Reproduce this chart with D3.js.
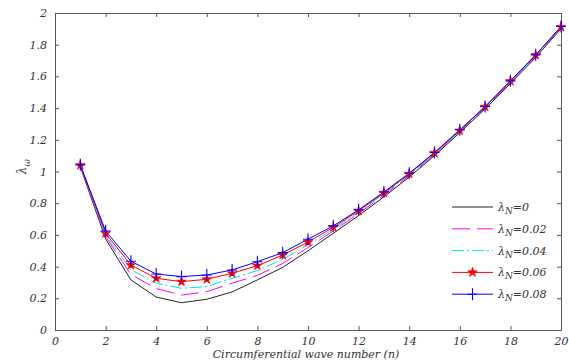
<!DOCTYPE html>
<html>
<head>
<meta charset="utf-8">
<script src="https://cdn.jsdelivr.net/npm/d3@7/dist/d3.min.js"></script>
<style>
  body { margin: 0; background: #fff; }
  svg text { font-family: "DejaVu Serif", serif; font-style: italic; fill: #333; }
</style>
</head>
<body>
<div id="chart"></div>
<script>
// data
const waveNumbers = [1, 2, 3, 4, 5, 6, 7, 8, 9, 10, 11, 12, 13, 14, 15, 16, 17, 18, 19, 20];
const lamN0   = [1.03, 0.575, 0.316, 0.208, 0.172, 0.194, 0.24, 0.316, 0.395, 0.50, 0.61, 0.722, 0.84, 0.965, 1.10, 1.245, 1.395, 1.555, 1.72, 1.90];
const lamN002 = [1.035, 0.59, 0.35, 0.262, 0.22, 0.242, 0.295, 0.345, 0.42, 0.52, 0.625, 0.735, 0.85, 0.973, 1.107, 1.25, 1.40, 1.562, 1.727, 1.905];
const lamN004 = [1.038, 0.60, 0.38, 0.295, 0.263, 0.274, 0.326, 0.375, 0.445, 0.537, 0.637, 0.745, 0.858, 0.979, 1.112, 1.254, 1.404, 1.566, 1.73, 1.908];
const lamN006 = [1.04, 0.61, 0.41, 0.326, 0.305, 0.32, 0.358, 0.406, 0.473, 0.555, 0.648, 0.752, 0.865, 0.985, 1.117, 1.258, 1.408, 1.57, 1.734, 1.912];
const lamN008 = [1.042, 0.625, 0.434, 0.353, 0.337, 0.347, 0.379, 0.431, 0.488, 0.573, 0.657, 0.758, 0.871, 0.989, 1.12, 1.263, 1.41, 1.572, 1.736, 1.915];
const seriesLabels = ["0", "0.02", "0.04", "0.06", "0.08"];
const xTicks = d3.range(0, 21, 2);
const yTicks = [0, 0.2, 0.4, 0.6, 0.8, 1, 1.2, 1.4, 1.6, 1.8, 2];

const width = 569, height = 364;
const margin = { top: 13, right: 8, bottom: 34, left: 55 };
const innerWidth = width - margin.left - margin.right;
const innerHeight = height - margin.top - margin.bottom;

const svg = d3.select('#chart').append('svg')
  .attr('width', width)
  .attr('height', height);

const g = svg.append('g')
  .attr('transform', `translate(${margin.left},${margin.top})`);

const x = d3.scaleLinear().domain([0, 20]).range([0, innerWidth]);
const y = d3.scaleLinear().domain([0, 2]).range([innerHeight, 0]);

// Axes (ticks pointing inward, box all round)
const fmt = d => String(d);
g.append('g')
  .attr('transform', `translate(0,${innerHeight})`)
  .call(d3.axisBottom(x).tickValues(xTicks).tickFormat(fmt).tickSizeInner(-4).tickSizeOuter(0).tickPadding(7));
g.append('g')
  .call(d3.axisTop(x).tickValues(xTicks).tickFormat('').tickSizeInner(-4).tickSizeOuter(0));
g.append('g')
  .call(d3.axisLeft(y).tickValues(yTicks).tickFormat(fmt).tickSizeInner(-4).tickSizeOuter(0).tickPadding(8));
g.append('g')
  .attr('transform', `translate(${innerWidth},0)`)
  .call(d3.axisRight(y).tickValues(yTicks).tickFormat('').tickSizeInner(-4).tickSizeOuter(0));

g.selectAll('.domain').attr('stroke', '#555');
g.selectAll('.tick line').attr('stroke', '#555');
g.selectAll('.tick text')
  .style('font-size', '11px')
  .style('font-family', '"DejaVu Serif", serif')
  .style('font-style', 'italic')
  .attr('fill', '#333');

// Curves
const series = [
  { name: seriesLabels[0], values: lamN0,   color: '#222222', dash: null,       marker: null },
  { name: seriesLabels[1], values: lamN002, color: '#ff00ff', dash: '18,7',     marker: null },
  { name: seriesLabels[2], values: lamN004, color: '#00e5e5', dash: '12,3,2,3', marker: null },
  { name: seriesLabels[3], values: lamN006, color: '#ff0000', dash: null,       marker: 'star' },
  { name: seriesLabels[4], values: lamN008, color: '#0000ff', dash: null,       marker: 'plus' }
];

const line = d3.line()
  .x((d, i) => x(waveNumbers[i]))
  .y(d => y(d));

series.forEach(s => {
  g.append('path')
    .datum(s.values)
    .attr('fill', 'none')
    .attr('stroke', s.color)
    .attr('stroke-width', 1)
    .attr('stroke-dasharray', s.dash)
    .attr('d', line);
});

const star = d3.symbol().type(d3.symbolStar).size(30);
const plus = 'M-5,0H5M0,-6V6';

function drawMarker(sel, s, cx, cy) {
  if (s.marker === 'star') {
    sel.append('path')
      .attr('transform', `translate(${cx},${cy})`)
      .attr('d', star())
      .attr('fill', s.color)
      .attr('stroke', s.color)
      .attr('stroke-width', 0.6);
  } else if (s.marker === 'plus') {
    sel.append('path')
      .attr('transform', `translate(${cx},${cy})`)
      .attr('d', plus)
      .attr('fill', 'none')
      .attr('stroke', s.color)
      .attr('stroke-width', 1.1);
  }
}

series.filter(s => s.marker).forEach(s => {
  s.values.forEach((v, i) => drawMarker(g, s, x(waveNumbers[i]), y(v)));
});

// Axis titles
svg.append('text')
  .attr('x', 306)
  .attr('y', height - 6)
  .attr('text-anchor', 'middle')
  .style('font-size', '11px')
  .text('Circumferential wave number (n)');

const yl = svg.append('text')
  .attr('transform', `translate(26,${margin.top + y(1.03)}) rotate(-90)`)
  .attr('text-anchor', 'middle')
  .style('font-size', '12px');
yl.append('tspan').text('λ');
yl.append('tspan').attr('dy', 4).style('font-size', '9px').text('ω');

// Legend
const legend = g.append('g')
  .attr('transform', `translate(${452 - margin.left},${207 - margin.top})`);

series.forEach((s, i) => {
  const row = legend.append('g').attr('transform', `translate(0,${i * 21.8})`);
  row.append('line')
    .attr('x1', 0).attr('x2', 41)
    .attr('y1', 0).attr('y2', 0)
    .attr('stroke', s.color)
    .attr('stroke-dasharray', s.dash);
  drawMarker(row, s, 20.5, 0);
  const t = row.append('text')
    .attr('x', 46)
    .attr('y', 4)
    .style('font-size', '11px');
  t.append('tspan').text('λ');
  t.append('tspan').attr('dy', 3).style('font-size', '9px').text('N');
  t.append('tspan').attr('dy', -3).text('=' + s.name);
});
</script>
</body>
</html>
